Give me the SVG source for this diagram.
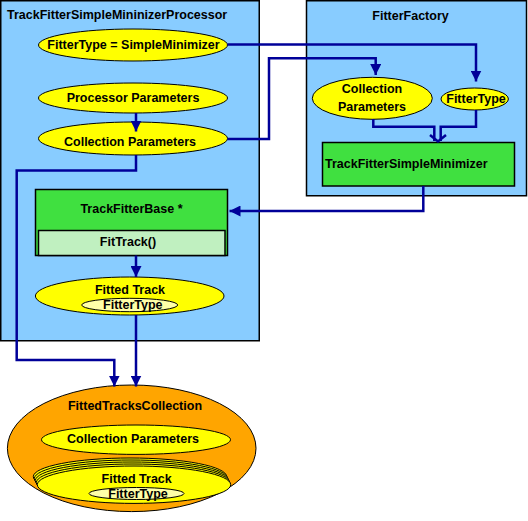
<svg xmlns="http://www.w3.org/2000/svg" width="528" height="521" viewBox="0 0 528 521">
<defs>
<style>
.panel{fill:#88ccff;stroke:#000;stroke-width:1.5}
.yel{fill:#ffff00;stroke:#000;stroke-width:1}
.pale{fill:#ffffa8;stroke:#000;stroke-width:1}
.grn{fill:#40e040;stroke:#000;stroke-width:1.5}
.lgrn{fill:#c0f0c0;stroke:#000;stroke-width:1.5}
.org{fill:#ffa500;stroke:#000;stroke-width:1}
text{font-family:"Liberation Sans",Arial,sans-serif;font-weight:bold;font-size:12.5px;fill:#000}
.c{text-anchor:middle}
.ln{fill:none;stroke:#000099;stroke-width:2.5}
</style>
<marker id="ah" viewBox="0 0 10 10" refX="10" refY="5" markerWidth="11" markerHeight="11" markerUnits="userSpaceOnUse" orient="auto">
<path d="M0,0 L10,5 L0,10 Z" fill="#000099"/>
</marker>
</defs>
<g id="processor">
<rect class="panel" x="0.75" y="0.75" width="258.5" height="340"/>
<text x="7" y="19">TrackFitterSimpleMininizerProcessor</text>
</g>
<g id="factory">
<rect class="panel" x="306.5" y="0.75" width="220" height="195"/>
<text class="c" x="410.5" y="20">FitterFactory</text>
</g>
<g id="fittertype-param">
<ellipse class="yel" cx="133" cy="45" rx="94.5" ry="16"/>
<text class="c" x="133.5" y="48.5">FitterType = SimpleMinimizer</text>
</g>
<g id="processor-params">
<ellipse class="yel" cx="133" cy="98" rx="94.5" ry="15"/>
<text class="c" x="133" y="102">Processor Parameters</text>
</g>
<g id="collection-params">
<ellipse class="yel" cx="133" cy="138.5" rx="94.5" ry="16.5"/>
<text class="c" x="130" y="145.5">Collection Parameters</text>
</g>
<g id="factory-collection-params">
<ellipse class="yel" cx="372.3" cy="98.3" rx="60" ry="21"/>
<text class="c" x="372" y="92.5">Collection</text>
<text class="c" x="372" y="111">Parameters</text>
</g>
<g id="factory-fittertype">
<ellipse class="yel" cx="474.7" cy="99" rx="33.7" ry="11"/>
<text class="c" x="476" y="103">FitterType</text>
</g>
<g id="simple-minimizer">
<rect class="grn" x="322.5" y="142.5" width="192" height="43.5"/>
<text x="325" y="168">TrackFitterSimpleMinimizer</text>
</g>
<g id="fitter-base">
<rect class="grn" x="35.5" y="189.5" width="192" height="66"/>
<text class="c" x="131.5" y="212.5">TrackFitterBase *</text>
<rect class="lgrn" x="38.5" y="230.5" width="186.5" height="25"/>
<text class="c" x="128" y="246">FitTrack()</text>
</g>
<g id="fitted-track">
<ellipse class="yel" cx="129.7" cy="296" rx="94.3" ry="19"/>
<text class="c" x="130" y="294">Fitted Track</text>
<ellipse class="pale" cx="129.7" cy="305" rx="48" ry="6.7"/>
<text class="c" x="132.8" y="309">FitterType</text>
</g>
<g id="fitted-tracks-collection">
<ellipse class="org" cx="131.7" cy="448.3" rx="124.3" ry="63.3"/>
<text class="c" x="135" y="410">FittedTracksCollection</text>
<ellipse class="yel" cx="136" cy="439.7" rx="94.5" ry="14.7"/>
<text class="c" x="133" y="442.5">Collection Parameters</text>
<ellipse class="yel" cx="130" cy="476.7" rx="96.7" ry="18.7"/>
<ellipse class="yel" cx="131" cy="478.7" rx="96.7" ry="18.7"/>
<ellipse class="yel" cx="132" cy="480.7" rx="96.7" ry="18.7"/>
<ellipse class="yel" cx="133" cy="482.7" rx="96.7" ry="18.7"/>
<ellipse class="yel" cx="134" cy="484.7" rx="96.7" ry="18.7"/>
<text class="c" x="136.7" y="483">Fitted Track</text>
<ellipse class="pale" cx="136.5" cy="493.5" rx="47.5" ry="6"/>
<text class="c" x="138" y="498">FitterType</text>
</g>
<g id="connectors">
<path class="ln" d="M227.5,44.5 H476 V81.5" marker-end="url(#ah)"/>
<path class="ln" d="M227.5,139 H269 V58.3 H375.7 V75" marker-end="url(#ah)"/>
<path class="ln" d="M136,113 V131.5" marker-end="url(#ah)"/>
<path class="ln" d="M373.3,119 V126.7 H434.3 V141"/>
<path class="ln" d="M476,110 V126.7 H440.7 V141"/>
<path class="ln" d="M430,135 L438,141.5 L446,135"/>
<path class="ln" d="M423.3,186 V211 H229.5" marker-end="url(#ah)"/>
<path class="ln" d="M136,255.5 V277" marker-end="url(#ah)"/>
<path class="ln" d="M136,315 V386.5" marker-end="url(#ah)"/>
<path class="ln" d="M136,155 V170.5 H16.7 V360 H114.3 V386.5" marker-end="url(#ah)"/>
</g>
</svg>
